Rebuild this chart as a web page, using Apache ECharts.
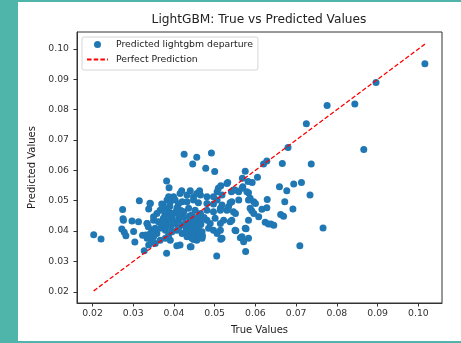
<!DOCTYPE html>
<html>
<head>
<meta charset="utf-8">
<script src="https://cdn.jsdelivr.net/npm/echarts@6/dist/echarts.min.js"></script>
<style>html,body{margin:0;padding:0;background:#fff}#c{width:461px;height:343px}</style>
</head>
<body>
<div id="c"></div>
<script>
const chartTitle = 'LightGBM: True vs Predicted Values';
const xAxisName = 'True Values';
const yAxisName = 'Predicted Values';
const seriesNames = ['Predicted lightgbm departure', 'Perfect Prediction'];
const xTicks = [0.02, 0.03, 0.04, 0.05, 0.06, 0.07, 0.08, 0.09, 0.10];
const yTicks = [0.02, 0.03, 0.04, 0.05, 0.06, 0.07, 0.08, 0.09, 0.10];

// [true value, predicted value]
const predictions = [
  [0.1016,0.0951],[0.0896,0.0890],[0.0844,0.0819],[0.0776,0.0814],[0.0725,0.0754],[0.0866,0.0669],
  [0.0680,0.0675],[0.0737,0.0621],[0.0666,0.0623],[0.0620,0.0621],[0.0628,0.0631],[0.0766,0.0410],
  [0.0709,0.0352],[0.0734,0.0519],[0.0713,0.0560],[0.0694,0.0555],[0.0659,0.0546],[0.0677,0.0533],
  [0.0672,0.0497],[0.0692,0.0473],[0.0662,0.0455],[0.0669,0.0449],[0.0629,0.0504],[0.0628,0.0477],
  [0.0616,0.0472],[0.0608,0.0447],[0.0624,0.0429],[0.0632,0.0423],[0.0638,0.0423],[0.0645,0.0419],
  [0.0605,0.0577],[0.0592,0.0560],[0.0575,0.0597],[0.0568,0.0574],[0.0583,0.0526],
  [0.0425,0.0653],[0.0492,0.0657],[0.0456,0.0643],[0.0446,0.0621],[0.0478,0.0607],[0.0500,0.0596],
  [0.0382,0.0565],[0.0388,0.0543],[0.0532,0.0560],[0.0515,0.0549],
  [0.0203,0.0388],[0.0221,0.0374],[0.0274,0.0471],[0.0275,0.0441],[0.0276,0.0436],[0.0272,0.0407],
  [0.0278,0.0396],[0.0282,0.0385],[0.0297,0.0433],[0.0301,0.0399],[0.0304,0.0364],[0.0315,0.0500],
  [0.0313,0.0431],[0.0327,0.0335],[0.0341,0.0492],[0.0338,0.0473],[0.0323,0.0386],[0.0334,0.0425],
  [0.0382,0.0327],[0.0442,0.0348],[0.0407,0.0352],[0.0415,0.0354],[0.0505,0.0318],[0.0576,0.0333],
  [0.0515,0.0373],[0.0577,0.0408],[0.0563,0.0378],[0.0583,0.0376],[0.0571,0.0365],[0.0552,0.0401],
  [0.0419,0.0533],[0.0440,0.0533],[0.0463,0.0533],[0.0415,0.0524],[0.0399,0.0513],[0.0432,0.0519],
  [0.0448,0.0513],[0.0465,0.0519],[0.0481,0.0513],[0.0506,0.0530],[0.0541,0.0530],[0.0546,0.0535],
  [0.0559,0.0530],[0.0569,0.0546],[0.0579,0.0530],[0.0387,0.0513],[0.0456,0.0524],[0.0497,0.0513],
  [0.0370,0.0489],[0.0383,0.0502],[0.0391,0.0497],[0.0403,0.0502],[0.0420,0.0497],[0.0432,0.0497],
  [0.0448,0.0502],[0.0460,0.0493],[0.0481,0.0491],[0.0497,0.0489],[0.0506,0.0502],[0.0518,0.0486],
  [0.0538,0.0493],[0.0559,0.0502],[0.0587,0.0508],[0.0596,0.0497],[0.0600,0.0491],[0.0374,0.0486],
  [0.0411,0.0489],
  [0.0366,0.0469],[0.0374,0.0475],[0.0387,0.0464],[0.0395,0.0458],[0.0407,0.0471],[0.0424,0.0464],
  [0.0436,0.0475],[0.0452,0.0469],[0.0465,0.0458],[0.0481,0.0469],[0.0497,0.0464],[0.0514,0.0475],
  [0.0530,0.0469],[0.0546,0.0464],[0.0551,0.0458],[0.0591,0.0467],[0.0596,0.0458],[0.0358,0.0458],
  [0.0444,0.0453],
  [0.0334,0.0425],[0.0350,0.0436],[0.0362,0.0431],[0.0374,0.0442],[0.0383,0.0425],[0.0399,0.0431],
  [0.0411,0.0436],[0.0428,0.0425],[0.0440,0.0436],[0.0452,0.0420],[0.0465,0.0431],[0.0481,0.0436],
  [0.0489,0.0425],[0.0501,0.0442],[0.0514,0.0425],[0.0522,0.0436],[0.0538,0.0431],[0.0583,0.0436],
  [0.0391,0.0447],[0.0460,0.0447],[0.0420,0.0420],[0.0350,0.0447],
  [0.0346,0.0403],[0.0358,0.0392],[0.0366,0.0409],[0.0379,0.0403],[0.0387,0.0387],[0.0407,0.0403],
  [0.0420,0.0392],[0.0436,0.0403],[0.0448,0.0392],[0.0460,0.0406],[0.0469,0.0398],[0.0485,0.0409],
  [0.0497,0.0403],[0.0506,0.0392],[0.0514,0.0403],[0.0395,0.0398],[0.0444,0.0414],[0.0456,0.0387],
  [0.0334,0.0376],[0.0346,0.0365],[0.0354,0.0359],[0.0366,0.0370],[0.0379,0.0376],[0.0391,0.0370],
  [0.0432,0.0381],[0.0456,0.0370],[0.0469,0.0376],[0.0338,0.0354],[0.0350,0.0381],[0.0444,0.0376],
  [0.0337,0.0414],[0.0342,0.0392],[0.0331,0.0387],
  [0.0424,0.0445],[0.0430,0.0412],[0.0435,0.0390],[0.0440,0.0420],[0.0446,0.0400],[0.0450,0.0380],
  [0.0455,0.0440],[0.0458,0.0412],[0.0462,0.0395],[0.0466,0.0422],[0.0470,0.0385],[0.0474,0.0445],
  [0.0452,0.0428],[0.0438,0.0450],[0.0428,0.0398],[0.0448,0.0372],[0.0463,0.0378],
  [0.0372,0.0480],[0.0378,0.0455],[0.0385,0.0470],[0.0390,0.0482],[0.0396,0.0445],[0.0402,0.0460],
  [0.0408,0.0478],[0.0413,0.0450],[0.0417,0.0468],[0.0380,0.0418],[0.0392,0.0415],[0.0403,0.0425],
  [0.0412,0.0412],[0.0372,0.0425],[0.0386,0.0440],
  [0.0550,0.0403],[0.0567,0.0381],[0.0542,0.0436],[0.0534,0.0480],[0.0542,0.0497],[0.0514,0.0469],
  [0.0518,0.0376],[0.0518,0.0519],[0.0509,0.0541],[0.0530,0.0557],[0.0550,0.0535],[0.0567,0.0541],
  [0.0582,0.0563],[0.0587,0.0475],[0.0583,0.0502],[0.0575,0.0409],[0.0440,0.0348],
  [0.0342,0.0491],[0.0354,0.0409],[0.0346,0.0370]
];

const trueVals = predictions.map(p => p[0]);
const lo = Math.min(...trueVals), hi = Math.max(...trueVals);
const perfectLine = [[lo, lo], [hi, hi]];

const font = 'DejaVu Sans';
const chart = echarts.init(document.getElementById('c'), null, {renderer: 'canvas'});
chart.setOption({
  animation: false,
  backgroundColor: '#4fb5aa',
  graphic: [
    {type: 'rect', left: 18, top: 2, shape: {width: 443, height: 339}, style: {fill: '#ffffff'}, z: -10},
    {type: 'text', x: 259, y: 20, style: {text: chartTitle, fontFamily: font, fontSize: 12.2, fill: '#222', align: 'center', verticalAlign: 'middle'}}
  ],
  grid: {left: 77, top: 32, right: 19, bottom: 40, show: true, borderColor: '#333', borderWidth: 1, backgroundColor: 'transparent'},
  legend: {
    orient: 'vertical', left: 82, top: 37,
    padding: [2, 5, 5, 4], itemGap: 4, itemWidth: 21, itemHeight: 7,
    backgroundColor: '#fff', borderColor: '#d6d6d6', borderWidth: 1, borderRadius: 2,
    textStyle: {fontFamily: font, fontSize: 9.3, color: '#222', lineHeight: 11, padding: [0, 0, 0, 3]},
    data: [
      {name: seriesNames[0], icon: 'circle'},
      {name: seriesNames[1], itemStyle: {opacity: 0}}
    ]
  },
  xAxis: {
    type: 'value', min: 0.0162, max: 0.1058,
    name: xAxisName, nameLocation: 'middle', nameGap: 22,
    nameTextStyle: {fontFamily: font, fontSize: 10, color: '#222'},
    axisLine: {show: true, lineStyle: {color: '#333'}},
    axisTick: {show: true, length: 3.5, lineStyle: {color: '#333'}, customValues: xTicks},
    axisLabel: {fontFamily: font, fontSize: 9.3, color: '#333', margin: 6, customValues: xTicks, formatter: v => v.toFixed(2)},
    splitLine: {show: false}
  },
  yAxis: {
    type: 'value', min: 0.0163, max: 0.1056,
    name: yAxisName, nameLocation: 'middle', nameGap: 31,
    nameTextStyle: {fontFamily: font, fontSize: 10, color: '#222'},
    axisLine: {show: true, lineStyle: {color: '#333'}},
    axisTick: {show: true, length: 3.5, lineStyle: {color: '#333'}, customValues: yTicks},
    axisLabel: {fontFamily: font, fontSize: 9.3, color: '#333', margin: 8, customValues: yTicks, formatter: v => v.toFixed(2)},
    splitLine: {show: false}
  },
  series: [
    {
      name: seriesNames[0], type: 'scatter', data: predictions,
      symbolSize: 7, itemStyle: {color: '#1f77b4', opacity: 1}, z: 2
    },
    {
      name: seriesNames[1], type: 'line', data: perfectLine, symbol: 'none',
      lineStyle: {color: '#ff0000', width: 1.3, type: [4.5, 2.2]}, itemStyle: {color: '#ff0000'}, z: 3
    }
  ]
});
</script>
</body>
</html>
